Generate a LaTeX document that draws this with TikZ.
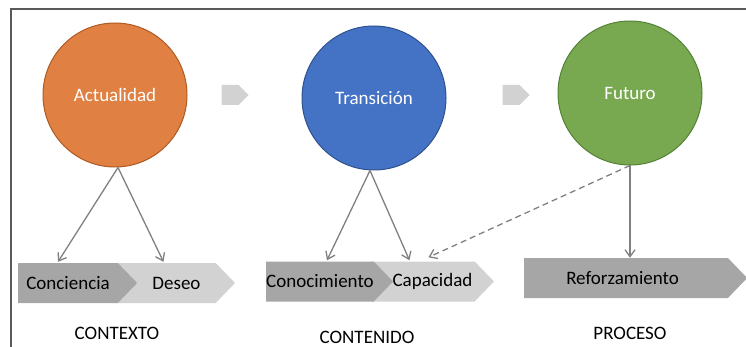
\documentclass[tikz,border=0pt]{standalone}
\usepackage{fontspec}
\setmainfont{Carlito}
\usepackage{tikz}
\usetikzlibrary{positioning,arrows.meta,calc,shapes.symbols,shapes.arrows}
\definecolor{orangefill}{RGB}{224,128,66}
\definecolor{orangeline}{RGB}{174,90,33}
\definecolor{bluefill}{RGB}{68,114,196}
\definecolor{blueline}{RGB}{47,82,143}
\definecolor{greenfill}{RGB}{120,168,80}
\definecolor{greenline}{RGB}{84,130,53}
\definecolor{chevdark}{RGB}{166,166,166}
\definecolor{chevlight}{RGB}{210,210,210}
\definecolor{linkgray}{RGB}{128,128,128}

\begin{document}
\begin{tikzpicture}[
      x=1pt, y=-1pt,
      >={Straight Barb[length=7pt,width=10pt]},
      etapa/.style ={circle, minimum size=144pt, inner sep=0pt, line width=1pt,
                     text=white, font=\fontsize{19}{22}\selectfont},
      chev/.style  ={signal, signal to=east, signal pointer angle=92,
                     inner sep=0pt, minimum height=40pt, anchor=west,
                     font=\fontsize{19}{22}\selectfont},
      chevin/.style={chev, signal from=west},
      paso/.style  ={single arrow, fill=chevlight, draw=none, inner sep=0pt,
                     minimum height=27pt, minimum width=20pt,
                     single arrow head extend=0pt},
      rama/.style  ={->, line width=1.3pt, draw=linkgray},
      titulo/.style={font=\fontsize{19}{22}\selectfont}
    ]
    \useasboundingbox (0,0) rectangle (746,347);
    \draw[line width=1.2pt, black!65] (11,347) -- (11,9) -- (746,9);
    % --- etapas ---
    \node[etapa, fill=orangefill, draw=orangeline] (act) at (115,95) {Actualidad};
    \node[etapa, fill=bluefill, draw=blueline]     (tra) at (374,98) {Transición};
    \node[etapa, fill=greenfill, draw=greenline]   (fut) at (630,93) {Futuro};
    \node[paso] (paso1) at (230,95) {};
    \node[paso] (paso2) at (511,95) {};
    % --- chevrones ---
    \node[chevin, fill=chevlight, minimum width=117pt] (deseo) at (137,283) {Deseo};
    \node[chev, fill=chevdark, minimum width=119pt]    (conc)  at (18,283)  {Conciencia};
    \node[chevin, fill=chevlight, minimum width=123pt] (capac) at (390,281.5) {Capacidad};
    \node[chev, fill=chevdark, minimum width=124pt]    (conoc) at (266,281.5) {Conocimiento};
    \node[chev, fill=chevdark, minimum width=223pt]    (refu)  at (524,278) {Reforzamiento\hspace*{7pt}};
    % --- titulos ---
    \node[titulo] (ctx) at (117,333) {CONTEXTO};
    \node[titulo] (cnt) at (367,337) {CONTENIDO};
    \node[titulo] (pro) at (630,333) {PROCESO};
    % --- ramas ---
    \draw[rama] ([xshift=3pt]act.south) -- ([xshift=-10pt,yshift=1pt]conc.north);
    \draw[rama] ([xshift=3pt]act.south) -- ([xshift=-13pt,yshift=1pt]deseo.north);
    \draw[rama] ([xshift=-4pt]tra.south) -- ([xshift=7pt,yshift=1pt]conoc.north);
    \draw[rama] ([xshift=-4pt]tra.south) -- ([xshift=-23pt,yshift=1pt]capac.north);
    \draw[rama] (fut.south) -- (fut.south |- refu.north);
    \draw[rama, dashed, dash pattern=on 6pt off 4pt] (fut.south) -- ([xshift=-4pt,yshift=4pt]capac.north);
  \end{tikzpicture}
\end{document}
